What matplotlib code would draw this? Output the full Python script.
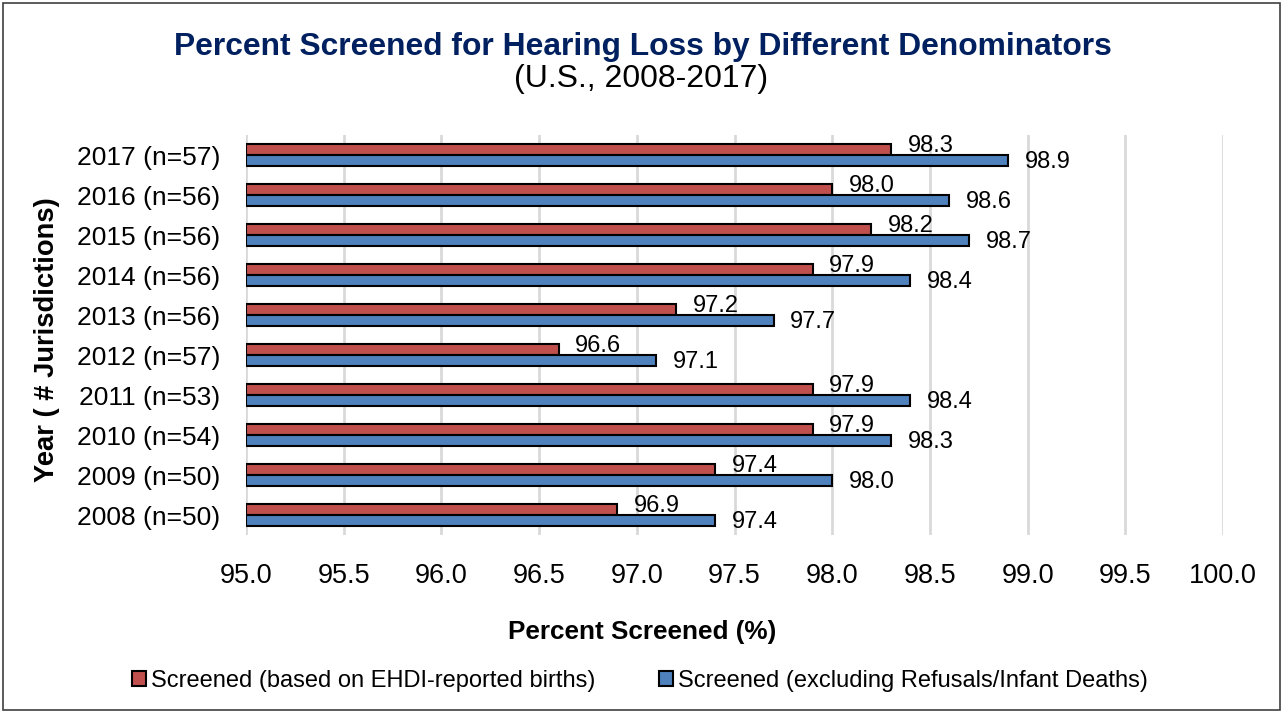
import numpy as np
import matplotlib.pyplot as plt
from matplotlib.patches import Rectangle, Patch

plt.rcParams['font.family'] = ['Liberation Sans', 'DejaVu Sans']

years = ['2008 (n=50)', '2009 (n=50)', '2010 (n=54)', '2011 (n=53)', '2012 (n=57)',
         '2013 (n=56)', '2014 (n=56)', '2015 (n=56)', '2016 (n=56)', '2017 (n=57)']
ehdi_births = [96.9, 97.4, 97.9, 97.9, 96.6, 97.2, 97.9, 98.2, 98.0, 98.3]
excl_refusals = [97.4, 98.0, 98.3, 98.4, 97.1, 97.7, 98.4, 98.7, 98.6, 98.9]
x_ticks = [95.0, 95.5, 96.0, 96.5, 97.0, 97.5, 98.0, 98.5, 99.0, 99.5, 100.0]

red = '#C0504D'
blue = '#4F81BD'
base = 95.0

fig = plt.figure(figsize=(12.83, 7.13), dpi=100)
ax = fig.add_axes([246 / 1283, 1 - 535 / 713, (1223 - 246) / 1283, 400 / 713])

y = np.arange(len(years))
h = 0.275
ax.barh(y + h / 2, np.array(ehdi_births) - base, height=h, left=base, color=red,
        edgecolor='black', linewidth=1.5, zorder=3)
ax.barh(y - h / 2, np.array(excl_refusals) - base, height=h, left=base, color=blue,
        edgecolor='black', linewidth=1.5, zorder=3)

# data labels: red sits a bit above its bar, blue a bit below
for yi, v in zip(y, ehdi_births):
    ax.annotate(f'{v:.1f}', (v, yi + h / 2), xytext=(12, 2.5), textcoords='offset points',
                va='center', ha='left', fontsize=17, zorder=4)
for yi, v in zip(y, excl_refusals):
    ax.annotate(f'{v:.1f}', (v, yi - h / 2), xytext=(12, -1.2), textcoords='offset points',
                va='center', ha='left', fontsize=17, zorder=4)

ax.set_xlim(95.0, 100.0)
ax.set_ylim(-0.5, len(years) - 0.5)
ax.set_xticks(x_ticks)
ax.set_xticklabels([f'{t:.1f}' for t in x_ticks], fontsize=19.5)
ax.set_yticks(y)
ax.set_yticklabels(years, fontsize=19)
ax.tick_params(length=0)
ax.tick_params(axis='y', pad=18.5)
ax.tick_params(axis='x', pad=20)
ax.grid(axis='x', color='#D9D9D9', linewidth=2, zorder=0)
for s in ax.spines.values():
    s.set_visible(False)

fig.text(642 / 1283, 1 - 632 / 713, 'Percent Screened (%)', fontsize=18.8,
         fontweight='bold', ha='center', va='center')
fig.text(47 / 1283, 1 - 340 / 713, 'Year ( # Jurisdictions)', rotation=90, fontsize=19.7,
         fontweight='bold', ha='center', va='center')

fig.text(643 / 1283, 1 - 47 / 713, 'Percent Screened for Hearing Loss by Different Denominators',
         fontsize=22.9, fontweight='bold', color='#002060', ha='center', va='center')
fig.text(641 / 1283, 1 - 79 / 713, '(U.S., 2008-2017)', fontsize=23, ha='center', va='center')

handles = [Patch(facecolor=red, edgecolor='black', linewidth=1.5),
           Patch(facecolor=blue, edgecolor='black', linewidth=1.5)]
fig.legend(handles, ['Screened (based on EHDI-reported births)',
                     'Screened (excluding Refusals/Infant Deaths)'],
           loc='center', bbox_to_anchor=(640 / 1283, 1 - 681 / 713), ncol=2, frameon=False,
           fontsize=17, handlelength=0.6, handleheight=0.6, handletextpad=0.2,
           columnspacing=2.7)

fig.patches.append(Rectangle((3 / 1283, 3 / 713), 1 - 6 / 1283, 1 - 6 / 713,
                             transform=fig.transFigure, fill=False, edgecolor='#404040',
                             linewidth=1.2))

fig.savefig('out.png', dpi=100)
